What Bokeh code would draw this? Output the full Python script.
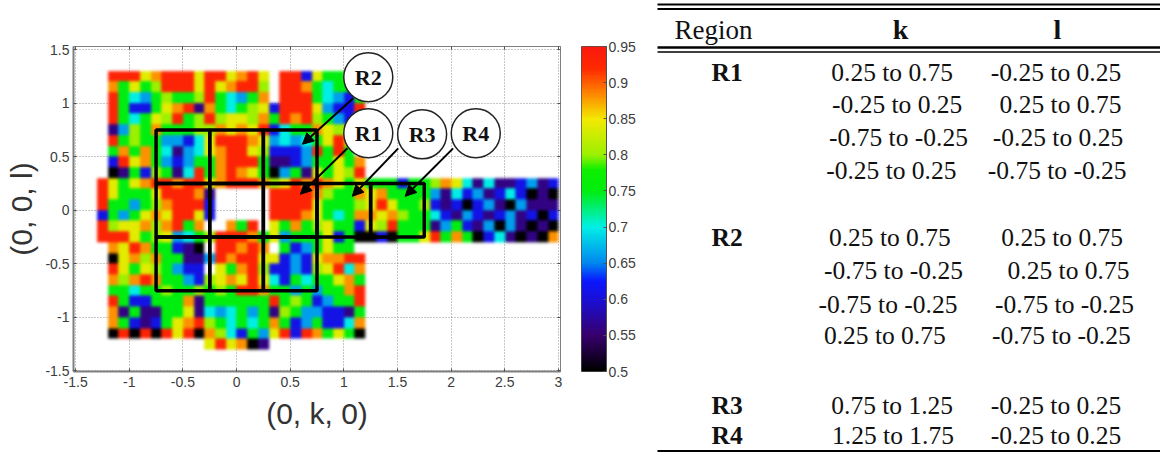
from bokeh.plotting import figure
from bokeh.layouts import row, column
from bokeh.embed import file_html
from bokeh.resources import INLINE
from bokeh.models import LinearColorMapper, FixedTicker, ColumnDataSource, Arrow, NormalHead, LinearAxis
from bokeh.core.properties import value
import numpy as np

# Map on a 0.1 grid (top row first). One letter per cell.
LEVELS = {"k": .50, "p": .56, "b": .61, "c": .66, "t": .70, "g": .75,
          "l": .80, "y": .84, "o": .88, "r": .93, ".": float("nan")}
map_rows = [
 ".rrryorrry" "rryory" "." "rrbyggy.",
 ".ogyglrrry" "ryorrl" "." "rrogtgg.",
 ".rgtcglggl" "rgtcgo" "." "rrrgtcbg",
 ".rgbbgyorp" "ogtgly" "b" "rrrycbbr",
 ".rgtgylrgl" "rlyylo" "g" "rorlgcby",
 ".pclgogggl" "loyoyr" "b" "tggoyly.",
 ".rglggccbt" "yrrroy" "c" "tctgyry.",
 ".gogogtpct" "yorryl" "b" "bbcrgrg.",
 ".bryogcbcg" "gorrrg" "p" "pbcggygo",
 ".kpgblgptr" "goroyg" "k" "cgpygylr",
 "rygyorrorr" "yorrrol" "yror" "oygyggg" "bgglo" "ytptppbcpb",
 "rygggyrrro" "p.....r" "rrro" "lggoyog" "gggcp" "tbcpbtbkpk",
 "rggcglorrr" "b.....r" "rrry" "ggglyry" "gglbp" "bkbcpkcppp",
 "bgcgyoyrry" "b.....r" "rroy" "gtgooyo" "lggtb" "pcbpbcpbkb",
 "rlyyolorgo" "..ogr.y" "gogl" "yggbylr" "gggpc" "gbpckcpkpk",
 "rrryglyctg" "lrrrogy" "cggg" "ybgkkbk" "ggyrg" "ogkbtpkpko",
 ".oyroggbpk" ".rroro." "gbcg" "ygg.",
 ".kyologgpp" "crorryy" "bcby" "oorr",
 ".rygylgcbb" ".ygorlb" "bcbl" "yrto",
 ".oloroggcb" "lyoyryt" "bgtg" "gyog",
 ".ggtgglggl" "glgrrog" "gcgc" "ggor",
 ".rgbbgggop" "ggggggr" "glgb" "cggr",
 ".opgppggyp" "tctgcgp" "lgcc" "bbpg",
 ".ogbpbgyor" "lgtgtgo" "gbcg" "bbto",
 ".krkrkryrk" "oltbgcy" "rbro" "gygk",
 ".........." "yryokp",
]
k_edges = (-1.3, 3.0)
l_edges = (-1.3, 1.3)

# Colour scale stops
cbar_values = [.50, .55, .60, .625, .65, .70, .75, .78, .80, .85, .89, .92, .95]
cbar_colors = ["#000000", "#38006e", "#1a10d8", "#0a18ff", "#0088f0", "#00f0e6", "#00ee10", "#10f000",
               "#9cf000", "#f4ea00", "#ff7a00", "#ff2a00", "#fb1a10"]
cbar_ticks = [.5, .55, .6, .65, .7, .75, .8, .85, .9, .95]
cbar_labels = ["0.5", "0.55", "0.6", "0.65", "0.7", "0.75", "0.8", "0.85", "0.9", "0.95"]

k_ticks = [-1.5, -1, -.5, 0, .5, 1, 1.5, 2, 2.5, 3]
k_tick_labels = ["-1.5", "-1", "-0.5", "0", "0.5", "1", "1.5", "2", "2.5", "3"]
l_ticks = [-1.5, -1, -.5, 0, .5, 1, 1.5]
l_tick_labels = ["-1.5", "-1", "-0.5", "0", "0.5", "1", "1.5"]

# Region boxes
box_k0 = [-.75, -.25, .25, -.75, -.25, .25, -.75, -.25, .25, .75, 1.25]
box_k1 = [-.25, .25, .75, -.25, .25, .75, -.25, .25, .75, 1.25, 1.75]
box_l0 = [.25, .25, .25, -.25, -.25, -.25, -.75, -.75, -.75, -.25, -.25]
box_l1 = [.75, .75, .75, .25, .25, .25, -.25, -.25, -.25, .25, .25]

# Callouts
call_names = ["R2", "R1", "R3", "R4"]
call_k = [1.228, 1.228, 1.73, 2.23]
call_l = [1.243, .72, .71, .72]
arrow_k0 = [1.088, 1.033, 1.507, 2.019]
arrow_l0 = [1.047, .579, .579, .579]
arrow_k1 = [.614, .595, 1.079, 1.572]
arrow_l1 = [.617, .15, .131, .131]

# Table
table_head = ["Region", "k", "l"]
table_regions = ["R1", "R2", "R3", "R4"]
table_k = ["0.25 to 0.75", "-0.25 to 0.25", "-0.75 to -0.25", "-0.25 to 0.25",
           "0.25 to  0.75", "-0.75 to -0.25", "-0.75 to -0.25", "0.25 to  0.75",
           "0.75 to 1.25", "1.25 to 1.75"]
table_l = ["-0.25 to 0.25", "0.25 to 0.75", "-0.25 to 0.25", "-0.75 to -0.25",
           "0.25 to 0.75", "0.25 to 0.75", "-0.75 to -0.25", "-0.75 to -0.25",
           "-0.25 to 0.25", "-0.25 to 0.25"]

# ---------------------------------------------------------------- colours
palette_x = np.linspace(.5, .95, 256)
def chan(i):
    return np.interp(palette_x, cbar_values, [int(c[1 + 2 * i:3 + 2 * i], 16) for c in cbar_colors])
palette = ["#%02x%02x%02x" % (int(r), int(g), int(b)) for r, g, b in zip(chan(0), chan(1), chan(2))]
mapper = LinearColorMapper(palette=palette, low=.5, high=.95, nan_color="rgba(0,0,0,0)")

grid = np.array([[LEVELS[c] for c in r.ljust(43, ".")] for r in map_rows])[::-1]

# ---------------------------------------------------------------- map
tick_color = "#3c3c3c"
frame_color = "#808080"
p = figure(width=576, height=453, x_range=(-1.52, 3.02), y_range=(-1.505, 1.53),
           toolbar_location=None, output_backend="svg",
           min_border_left=73, min_border_right=16, min_border_top=46, min_border_bottom=82)
p.background_fill_color = "white"
p.outline_line_color = frame_color
p.image(image=[grid], x=k_edges[0], y=l_edges[0], dw=k_edges[1] - k_edges[0], dh=l_edges[1] - l_edges[0],
        color_mapper=mapper)
p.quad(left=box_k0, right=box_k1, bottom=box_l0, top=box_l1, fill_color=None, line_color="black", line_width=3.5)
arrows = ColumnDataSource(dict(x0=arrow_k0, y0=arrow_l0, x1=arrow_k1, y1=arrow_l1))
p.add_layout(Arrow(end=NormalHead(size=11, fill_color="black", line_color="black"),
                   x_start="x0", y_start="y0", x_end="x1", y_end="y1", source=arrows,
                   line_color="black", line_width=2))
p.scatter(x=call_k, y=call_l, size=49, marker="circle", fill_color="white", line_color="#222222", line_width=1.5)
p.text(x=call_k, y=call_l, text=call_names, text_align="center", text_baseline="middle",
       text_font=value("Liberation Serif"), text_font_style="bold", text_font_size="22px", text_color="#111111")

for ax in (p.xaxis[0], p.yaxis[0]):
    ax.major_tick_in, ax.major_tick_out = 3, 0
    ax.minor_tick_in, ax.minor_tick_out = 0, 0
    ax.axis_line_color = frame_color
    ax.axis_line_width = 2
    ax.major_tick_line_color = "#505050"
    ax.major_label_text_font = "Liberation Sans"
    ax.major_label_text_font_size = "14px"
    ax.major_label_text_color = tick_color
    ax.axis_label_text_font = "Liberation Sans"
    ax.axis_label_text_font_size = "30px"
    ax.axis_label_text_font_style = "normal"
    ax.axis_label_text_color = "#333333"
p.xaxis[0].ticker = FixedTicker(ticks=k_ticks)
p.xaxis[0].major_label_overrides = dict(zip(k_ticks, k_tick_labels))
p.xaxis[0].major_label_standoff = 5
p.yaxis[0].ticker = FixedTicker(ticks=l_ticks)
p.yaxis[0].major_label_overrides = dict(zip(l_ticks, l_tick_labels))
p.yaxis[0].major_label_standoff = 4
p.xaxis[0].axis_label = "(0, k, 0)"
p.yaxis[0].axis_label = "(0, 0, l)"
p.xaxis[0].axis_label_standoff = 7
p.yaxis[0].axis_label_standoff = 4
p.xgrid[0].ticker = FixedTicker(ticks=k_ticks)
p.ygrid[0].ticker = FixedTicker(ticks=l_ticks)
for g in (p.xgrid[0], p.ygrid[0]):
    g.grid_line_color = "#8c8c8c"
    g.grid_line_dash = "1 2"
    g.grid_line_width = 1

# tick marks on the top and right edges, no labels
for side, ticks in (("above", k_ticks), ("right", l_ticks)):
    ax2 = LinearAxis(ticker=FixedTicker(ticks=ticks), major_label_overrides={t_: "" for t_ in ticks},
                     major_tick_in=3, major_tick_out=0, minor_tick_in=0, minor_tick_out=0,
                     axis_line_color=frame_color, major_tick_line_color="#505050")
    p.add_layout(ax2, side)

# ---------------------------------------------------------------- colour bar
c = figure(width=64, height=453, x_range=(0, 1), y_range=(.5, .95), y_axis_location="right",
           toolbar_location=None, output_backend="svg",
           min_border_left=5, min_border_right=34, min_border_top=46, min_border_bottom=82)
c.image(image=[palette_x.reshape(-1, 1)], x=0, y=.5, dw=1, dh=.45, color_mapper=mapper)
c.xaxis.visible = False
c.grid.visible = False
c.outline_line_color = "#505050"
ay = c.yaxis[0]
ay.ticker = FixedTicker(ticks=cbar_ticks)
ay.major_label_overrides = dict(zip(cbar_ticks, cbar_labels))
ay.major_tick_in, ay.major_tick_out = 3, 0
ay.minor_tick_in, ay.minor_tick_out = 0, 0
ay.axis_line_color = "#505050"
ay.major_tick_line_color = "#505050"
ay.major_label_text_font = "Liberation Sans"
ay.major_label_text_font_size = "14px"
ay.major_label_text_color = tick_color
ay.major_label_standoff = 2

# ---------------------------------------------------------------- table (page pixel coordinates)
t = figure(width=520, height=453, x_range=(640, 1160), y_range=(453, 0),
           toolbar_location=None, output_backend="svg",
           min_border_left=0, min_border_right=0, min_border_top=0, min_border_bottom=0)
t.axis.visible = False
t.grid.visible = False
t.outline_line_color = None
rule_y = [4, 8.5, 47, 51.5, 450.5]
t.segment(x0=[657] * 5, x1=[1160] * 5, y0=rule_y, y1=rule_y, line_color="black",
          line_width=[2, 2, 2.5, 1.5, 2])
serif = value("Liberation Serif")
row_y = [72, 104, 137, 170, 237, 270, 304, 335, 405, 435]
k_x = [891.7, 896.7, 898, 890.8, 892.5, 893, 887.5, 887.5, 891.7, 892.5]
l_x = [1055.5, 1060, 1057.5, 1056.7, 1061.7, 1068, 1064, 1060.8, 1055.5, 1055.5]
tf = dict(text_font=serif, text_font_size="25.5px", text_baseline="middle", text_color="#111111")
t.text(x=[674], y=[29], text=[table_head[0]], text_align="left", **{**tf, "text_font_size": "27px"})
t.text(x=[900, 1057], y=[29, 29], text=table_head[1:], text_align="center", text_font_style="bold",
       **{**tf, "text_font_size": "28px"})
t.text(x=[711] * 4, y=[row_y[0], row_y[4], row_y[8], row_y[9]], text=table_regions, text_align="left",
       text_font_style="bold", **tf)
t.text(x=k_x, y=row_y, text=table_k, text_align="center", **tf)
t.text(x=l_x, y=row_y, text=table_l, text_align="center", **tf)

layout = row(row(p, c, spacing=0), column(t), spacing=0)
html = file_html(layout, INLINE)

# soft on-screen look of the published (interpolated, scanned) map; the values stay as read
soft = """<script>
function softenWalk(root){
  root.querySelectorAll('*').forEach(function(el){
    if(el.tagName.toLowerCase()==='image'){
      var w=el.getBBox?el.getBBox().width:0;
      if(w>100){el.style.filter='blur(1.8px)';}
    }
    if(el.shadowRoot) softenWalk(el.shadowRoot);
  });
}
setInterval(function(){softenWalk(document);},100);
</script></body>"""
html = html.replace("</body>", soft)
open("out.html", "w").write(html)
